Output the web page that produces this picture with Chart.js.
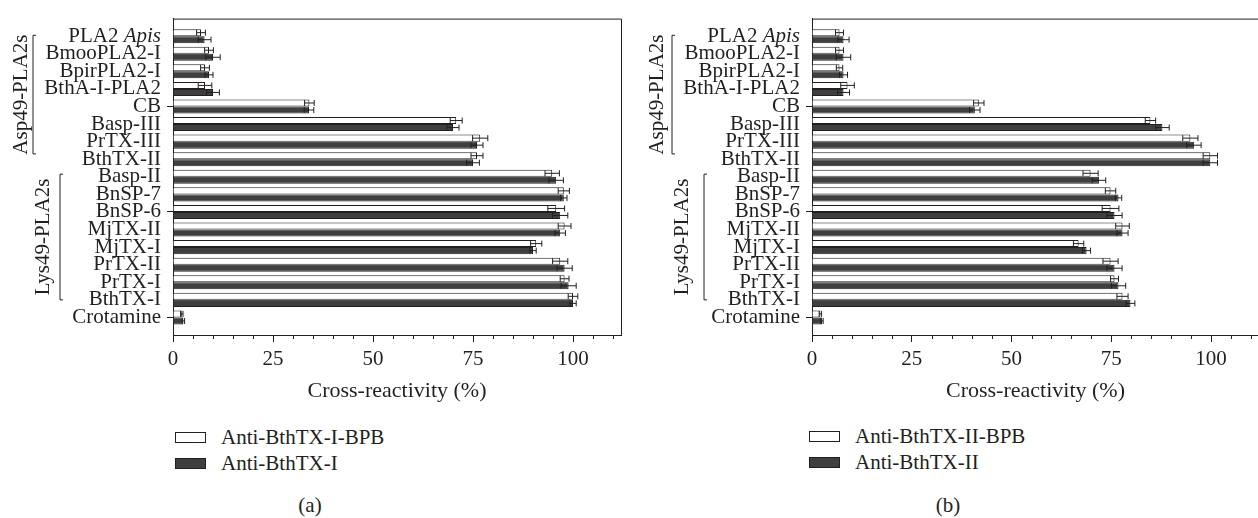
<!DOCTYPE html>
<html>
<head>
<meta charset="utf-8">
<script src="https://cdn.jsdelivr.net/npm/chart.js@4.4.1/dist/chart.umd.min.js"></script>
<style>
html, body { margin: 0; padding: 0; background: #fff; overflow: hidden; }
#wrap { position: relative; width: 1258px; height: 518px; overflow: hidden; font-family: "Liberation Serif", serif; color: #231f20; }
canvas { position: absolute; top: 0; }
.key { position: absolute; font-size: 21px; line-height: 21px; white-space: nowrap; }
.box { position: absolute; width: 29px; height: 9px; border: 1px solid #231f20; }
.cap { position: absolute; width: 60px; text-align: center; font-size: 21px; line-height: 22px; }
</style>
</head>
<body>
<div id="wrap">
  <canvas id="chartA" width="630" height="410" style="left:0px"></canvas>
  <canvas id="chartB" width="630" height="410" style="left:638px"></canvas>
  <div id="legendA"></div>
  <div id="legendB"></div>
  <div class="cap" style="left:280px;top:494px">(a)</div>
  <div class="cap" style="left:918px;top:494px">(b)</div>
</div>
<script>
const toxins = ['PLA2 Apis', 'BmooPLA2-I', 'BpirPLA2-I', 'BthA-I-PLA2', 'CB', 'Basp-III', 'PrTX-III', 'BthTX-II',
    'Basp-II', 'BnSP-7', 'BnSP-6', 'MjTX-II', 'MjTX-I', 'PrTX-II', 'PrTX-I', 'BthTX-I', 'Crotamine'];

// panel (a)
const bpbA     = [7.0, 9.0, 8.0, 8.0, 34.1, 70.8, 76.8, 76.0, 94.8, 97.7, 95.8, 97.9, 90.8, 96.8, 97.9, 100.0, 2.2];
const bpbAErr  = [1.1, 1.1, 1.1, 1.7, 1.2, 1.5, 1.9, 1.5, 1.8, 1.4, 2.1, 1.6, 1.4, 1.9, 1.1, 1.2, 0.3];
const antiA    = [7.9, 10.0, 9.0, 10.0, 34.0, 70.0, 76.0, 75.0, 95.8, 97.7, 96.8, 96.8, 90.0, 97.9, 98.9, 100.0, 2.6];
const antiAErr = [1.6, 1.8, 1.0, 1.6, 1.2, 1.5, 1.5, 1.6, 1.8, 0.8, 1.9, 1.3, 0.8, 1.9, 1.9, 0.8, 0.3];

// panel (b)
const bpbB     = [6.9, 6.9, 6.9, 8.9, 41.8, 84.8, 94.8, 99.8, 69.8, 74.8, 74.8, 77.8, 66.8, 74.8, 75.8, 77.8, 2.1];
const bpbBErr  = [1.0, 1.0, 0.8, 1.7, 1.3, 1.3, 1.9, 1.8, 1.9, 1.3, 2.1, 1.7, 1.3, 1.9, 1.0, 1.4, 0.3];
const antiB    = [7.9, 7.9, 7.9, 7.9, 40.8, 87.8, 95.7, 99.8, 71.9, 76.8, 75.8, 77.8, 68.8, 75.8, 76.8, 79.8, 2.5];
const antiBErr = [1.4, 1.8, 1.0, 1.5, 1.3, 1.7, 1.8, 1.8, 1.7, 0.8, 1.9, 1.4, 1.0, 1.9, 1.8, 1.1, 0.3];

const xTicks = [0, 25, 50, 75, 100];
const yMarks = [4, 10, 16];
const groupNames = ['Asp49-PLA2s', 'Lys49-PLA2s'];

const INK = '#231f20';
const DARK = '#3f3f3f';
const FONT = '"Liberation Serif", serif';

Chart.defaults.font.family = FONT;
Chart.defaults.font.size = 21;
Chart.defaults.color = INK;

const decor = {
    id: 'decor',
    afterDatasetsDraw(chart) {
        const ctx = chart.ctx;
        const xs = chart.scales.x;
        ctx.save();
        ctx.strokeStyle = INK;
        ctx.lineWidth = 1;
        chart.data.datasets.forEach((ds, i) => {
            const meta = chart.getDatasetMeta(i);
            meta.data.forEach((bar, j) => {
                const v = ds.data[j].x, e = ds.errors[j];
                if (v == null || !e) return;
                const x1 = xs.getPixelForValue(v - e);
                const x2 = xs.getPixelForValue(v + e);
                const h = bar.height / 2 - 0.5;
                ctx.beginPath();
                ctx.moveTo(x1, bar.y); ctx.lineTo(x2, bar.y);
                ctx.moveTo(x1, bar.y - h); ctx.lineTo(x1, bar.y + h);
                ctx.moveTo(x2, bar.y - h); ctx.lineTo(x2, bar.y + h);
                ctx.stroke();
            });
        });
        ctx.restore();
    },
    afterDraw(chart, args, opts) {
        const ctx = chart.ctx;
        const ca = chart.chartArea;
        const xs = chart.scales.x;
        const ys = chart.scales.y;
        ctx.save();
        ctx.strokeStyle = INK;
        ctx.fillStyle = INK;
        ctx.lineWidth = 1;
        // top and right of the frame
        ctx.beginPath();
        ctx.moveTo(ca.left, ca.top + 0.5); ctx.lineTo(ca.right + 0.5, ca.top + 0.5);
        ctx.lineTo(ca.right + 0.5, ca.bottom);
        ctx.stroke();
        // minor ticks
        ctx.beginPath();
        for (let v = 5; v <= 110; v += 5) {
            if (v % 25 === 0) continue;
            const px = Math.round(xs.getPixelForValue(v)) + 0.5;
            ctx.moveTo(px, xs.top); ctx.lineTo(px, xs.top + 4);
        }
        ctx.stroke();
        // group brackets
        opts.brackets.forEach(b => {
            const y1 = ys.getPixelForValue(b.from);
            const y2 = ys.getPixelForValue(b.to);
            ctx.beginPath();
            ctx.moveTo(b.lineX + 3, y1); ctx.lineTo(b.lineX, y1);
            ctx.lineTo(b.lineX, y2); ctx.lineTo(b.lineX + 3, y2);
            ctx.stroke();
            ctx.save();
            ctx.translate(b.textX, (y1 + y2) / 2);
            ctx.rotate(-Math.PI / 2);
            ctx.font = '21px ' + FONT;
            ctx.textAlign = 'center';
            ctx.textBaseline = 'middle';
            ctx.fillText(b.name, 0, 0);
            ctx.restore();
        });
        // first label with italic genus name
        const py = ys.getPixelForValue(0);
        const xr = ys.right - 12;
        ctx.textBaseline = 'middle';
        ctx.textAlign = 'right';
        ctx.font = 'italic 21px ' + FONT;
        const wI = ctx.measureText('Apis').width;
        ctx.fillText('Apis', xr, py);
        ctx.font = '21px ' + FONT;
        ctx.fillText('PLA2 ', xr - wI, py);
        ctx.restore();
    }
};

function makeLegend(id, left, top, names) {
    const el = document.getElementById(id);
    const fills = ['#ffffff', DARK];
    names.forEach((n, i) => {
        const y = top + i * 26;
        el.innerHTML += `<div class="box" style="left:${left}px;top:${y}px;background:${fills[i]}"></div>` +
            `<div class="key" style="left:${left + 46}px;top:${y - 5}px">${n}</div>`;
    });
}

function makeChart(id, axisWidth, bpb, bpbErr, anti, antiErr, names, brackets) {
    const ctx = document.getElementById(id).getContext('2d');
    return new Chart(ctx, {
        type: 'bar',
        data: {
            datasets: [
                {
                    label: names[0],
                    data: bpb.map((v, i) => ({ x: v, y: i })),
                    errors: bpbErr,
                    backgroundColor: '#ffffff',
                    borderColor: INK,
                    borderWidth: 1
                },
                {
                    label: names[1],
                    data: anti.map((v, i) => ({ x: v, y: i })),
                    errors: antiErr,
                    backgroundColor: DARK,
                    borderColor: INK,
                    borderWidth: 1
                }
            ]
        },
        options: {
            indexAxis: 'y',
            responsive: false,
            animation: false,
            devicePixelRatio: 1,
            layout: { padding: { top: 5, right: 9, left: 0, bottom: 0 } },
            datasets: { bar: { categoryPercentage: 0.8, barPercentage: 1.0 } },
            plugins: {
                legend: { display: false },
                tooltip: { enabled: false },
                decor: { brackets: brackets }
            },
            scales: {
                y: {
                    type: 'linear',
                    reverse: true,
                    min: -1,
                    max: 17,
                    offset: false,
                    afterFit: s => { s.width = axisWidth; },
                    border: { display: true, color: INK, width: 1 },
                    grid: {
                        display: true,
                        offset: false,
                        drawOnChartArea: false,
                        tickLength: 6,
                        tickColor: c => yMarks.includes(c.tick.value) ? INK : 'rgba(0,0,0,0)'
                    },
                    ticks: {
                        stepSize: 1,
                        autoSkip: false,
                        padding: 6,
                        color: INK,
                        callback: v => (v < 0 || v >= toxins.length) ? null : (v === 0 ? '' : toxins[v])
                    }
                },
                x: {
                    min: 0,
                    max: 112,
                    afterFit: s => { s.height = 75; },
                    border: { display: true, color: INK, width: 1 },
                    grid: {
                        display: true,
                        drawOnChartArea: false,
                        tickLength: 7,
                        tickColor: c => xTicks.includes(c.tick.value) ? INK : 'rgba(0,0,0,0)'
                    },
                    ticks: {
                        stepSize: 5,
                        includeBounds: false,
                        autoSkip: false,
                        maxRotation: 0,
                        padding: 5,
                        color: INK,
                        callback: v => xTicks.includes(v) ? String(v) : ''
                    },
                    title: {
                        display: true,
                        text: 'Cross-reactivity (%)',
                        color: INK,
                        font: { size: 22 },
                        padding: { top: 0, bottom: 6 }
                    }
                }
            }
        },
        plugins: [decor]
    });
}

makeChart('chartA', 173, bpbA, bpbAErr, antiA, antiAErr, ['Anti-BthTX-I-BPB', 'Anti-BthTX-I'], [
    { name: groupNames[0], from: -0.05, to: 6.7, lineX: 33, textX: 21 },
    { name: groupNames[1], from: 7.85, to: 15.0, lineX: 60, textX: 43 }
]);
makeChart('chartB', 174, bpbB, bpbBErr, antiB, antiBErr, ['Anti-BthTX-II-BPB', 'Anti-BthTX-II'], [
    { name: groupNames[0], from: -0.05, to: 6.7, lineX: 34, textX: 19 },
    { name: groupNames[1], from: 7.85, to: 15.0, lineX: 66, textX: 44 }
]);

makeLegend('legendA', 175, 432, ['Anti-BthTX-I-BPB', 'Anti-BthTX-I']);
makeLegend('legendB', 809, 431, ['Anti-BthTX-II-BPB', 'Anti-BthTX-II']);
</script>
</body>
</html>
